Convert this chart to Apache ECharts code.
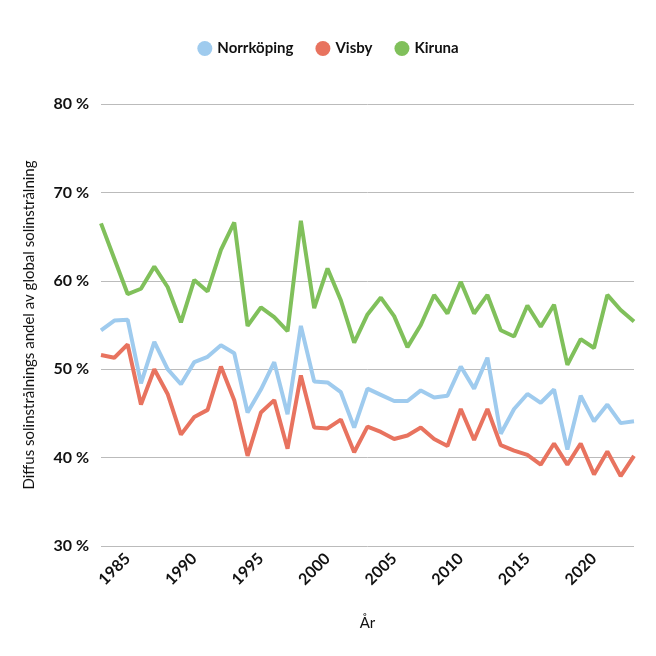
<!DOCTYPE html><html><head><meta charset="utf-8"><script src="https://cdn.jsdelivr.net/npm/echarts@6/dist/echarts.min.js"></script>
<style>html,body{margin:0;padding:0;background:#fff}#c{width:656px;height:656px}</style></head><body><div id="c"></div><script>
const years=[];for(let y=1983;y<=2023;y++)years.push(String(y));
const norrkoping=[54.4,55.5,55.6,48.4,53.1,50.0,48.3,50.8,51.4,52.7,51.8,45.1,47.7,50.8,44.9,54.9,48.6,48.5,47.4,43.4,47.8,47.1,46.4,46.4,47.6,46.8,47.0,50.3,47.8,51.3,42.7,45.5,47.2,46.2,47.7,40.9,47.0,44.1,46.0,43.9,44.1];
const visby=[51.6,51.3,52.8,46.0,50.0,47.2,42.6,44.6,45.4,50.3,46.5,40.2,45.1,46.5,41.0,49.3,43.4,43.3,44.3,40.6,43.5,42.9,42.1,42.5,43.4,42.1,41.3,45.5,42.0,45.5,41.4,40.8,40.3,39.2,41.6,39.2,41.6,38.1,40.7,37.9,40.2];
const kiruna=[66.5,62.5,58.5,59.1,61.6,59.3,55.3,60.1,58.8,63.5,66.6,54.9,57.0,55.9,54.3,66.8,56.9,61.4,57.8,53.0,56.2,58.1,56.0,52.5,55.0,58.4,56.3,59.9,56.3,58.4,54.4,53.7,57.2,54.8,57.3,50.5,53.4,52.4,58.4,56.7,55.4];
const font='Lato';
const mk=(n,d,c)=>({name:n,type:'line',data:d,symbol:'none',lineStyle:{width:4,color:c},itemStyle:{color:c}});
echarts.init(document.getElementById('c')).setOption({
textStyle:{fontFamily:font},
legend:{top:36,left:'center',icon:'circle',itemWidth:15,itemHeight:15,itemGap:22,textStyle:{fontWeight:'bold',fontSize:15,color:'#111'}},
grid:{left:101,right:22,top:104,bottom:110},
xAxis:{type:'category',data:years,boundaryGap:false,name:'År',nameLocation:'middle',nameGap:70,nameTextStyle:{fontSize:15,color:'#111'},
axisLine:{show:false},axisTick:{show:false},
axisLabel:{rotate:45,fontSize:16,fontWeight:'bold',color:'#111',margin:10,interval:(i,v)=>(+v)%5===0}},
yAxis:{type:'value',min:30,max:80,interval:10,name:'Diffus solinstrålnings andel av global solinstrålning',nameLocation:'middle',nameGap:64,nameTextStyle:{fontSize:15,color:'#111'},
axisLabel:{formatter:'{value} %',fontSize:16,fontWeight:'bold',color:'#111',margin:12},splitLine:{lineStyle:{color:'#bbb'}}},
series:[mk('Norrköping',norrkoping,'#9fcbee'),mk('Visby',visby,'#e8735f'),mk('Kiruna',kiruna,'#80c05b')]
});
</script></body></html>
